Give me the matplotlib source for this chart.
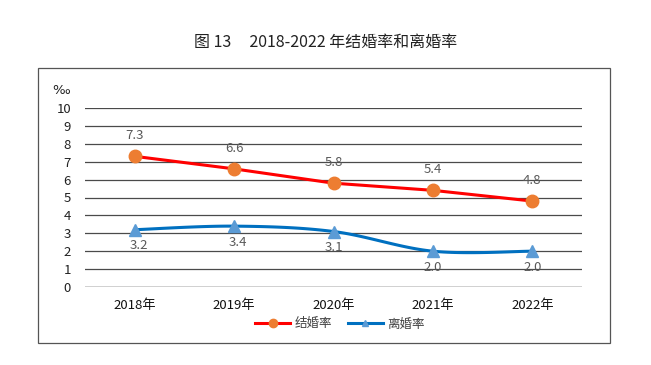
import numpy as np
import matplotlib.pyplot as plt
from matplotlib.patches import Rectangle

plt.rcParams['font.family'] = ['Noto Sans CJK SC', 'DejaVu Sans']

years = ['2018年', '2019年', '2020年', '2021年', '2022年']
marriage = [7.3, 6.6, 5.8, 5.4, 4.8]
divorce = [3.2, 3.4, 3.1, 2.0, 2.0]


def smooth(y, n=30):
    # bezier smoothing like the office chart "smoothed line"
    y = np.asarray(y, dtype=float)
    x = np.arange(len(y), dtype=float)
    pts = np.column_stack([x, y])
    out = []
    for i in range(len(pts) - 1):
        p0 = pts[max(i - 1, 0)]
        p1 = pts[i]
        p2 = pts[i + 1]
        p3 = pts[min(i + 2, len(pts) - 1)]
        c1 = p1 + (p2 - p0) / 6
        c2 = p2 - (p3 - p1) / 6
        t = np.linspace(0, 1, n)[:, None]
        seg = ((1 - t) ** 3) * p1 + 3 * ((1 - t) ** 2) * t * c1 + 3 * (1 - t) * t ** 2 * c2 + t ** 3 * p2
        out.append(seg if i == 0 else seg[1:])
    seg = np.vstack(out)
    return seg[:, 0], seg[:, 1]


fig = plt.figure(figsize=(6.51, 3.65), dpi=100)
fig.patch.set_facecolor('white')

# outer frame
fig.patches.append(Rectangle((38 / 651, 1 - 343 / 365), (610 - 38) / 651, (343 - 68) / 365,
                             transform=fig.transFigure, fill=False, edgecolor='#555555', lw=0.9))

fig.text(0.5, 1 - 42 / 365, '图 13     2018-2022 年结婚率和离婚率', ha='center', va='center',
         fontsize=11.5, color='#222222')

ax = fig.add_axes([85 / 651, 1 - 287 / 365, (582 - 85) / 651, (287 - 108) / 365])
x = np.arange(len(years))

for v in range(1, 11):
    ax.axhline(v, color='#4a4a4a', lw=0.9, zorder=0)
ax.axhline(0, color='#c8c8c8', lw=1.2, zorder=0)

ax.plot(x, marriage, color='#ff0000', lw=2.2, zorder=2)
ax.plot(x, marriage, 'o', color='#ed7d31', ms=9, zorder=3)
sx, sy = smooth(divorce)
ax.plot(sx, sy, color='#0070c0', lw=2.2, zorder=2)
ax.plot(x, divorce, '^', color='#5b9bd5', ms=9, zorder=3)

for i, v in enumerate(marriage):
    ax.annotate(f'{v:.1f}', (i, v), xytext=(0, 10), textcoords='offset points',
                ha='center', va='bottom', fontsize=9.5, color='#595959')
for i, v in enumerate(divorce):
    ax.annotate(f'{v:.1f}', (i, v), xytext=(3 if i < 2 else 0, -7), textcoords='offset points',
                ha='center', va='top', fontsize=9.5, color='#595959')

ax.set_xlim(-0.5, 4.5)
ax.set_ylim(0, 10)
ax.set_yticks(range(0, 11))
ax.set_xticks(x)
ax.set_xticklabels(years, fontsize=9.5, color='#111111', fontweight='medium')
ax.tick_params(axis='y', labelsize=9.5, colors='#222222', length=0, pad=10)
ax.tick_params(axis='x', length=0, pad=9)
for s in ax.spines.values():
    s.set_visible(False)

fig.text(61 / 651, 1 - 90 / 365, '‰', ha='center', va='center', fontsize=9.5, color='#222222',
         family='DejaVu Sans')

h1, = ax.plot([], [], color='#ff0000', lw=2.2, marker='o', mfc='#ed7d31', mec='#ed7d31', ms=6)
h2, = ax.plot([], [], color='#0070c0', lw=2.2, marker='^', mfc='#5b9bd5', mec='#5b9bd5', ms=5)
fig.legend([h1, h2], ['结婚率', '离婚率'], loc='center', bbox_to_anchor=(340 / 651, 1 - 324 / 365),
           ncol=2, frameon=False, fontsize=9, handlelength=2.8, columnspacing=1.2,
           handletextpad=0.4, labelcolor='#404040')

fig.savefig('out.png', dpi=100)
